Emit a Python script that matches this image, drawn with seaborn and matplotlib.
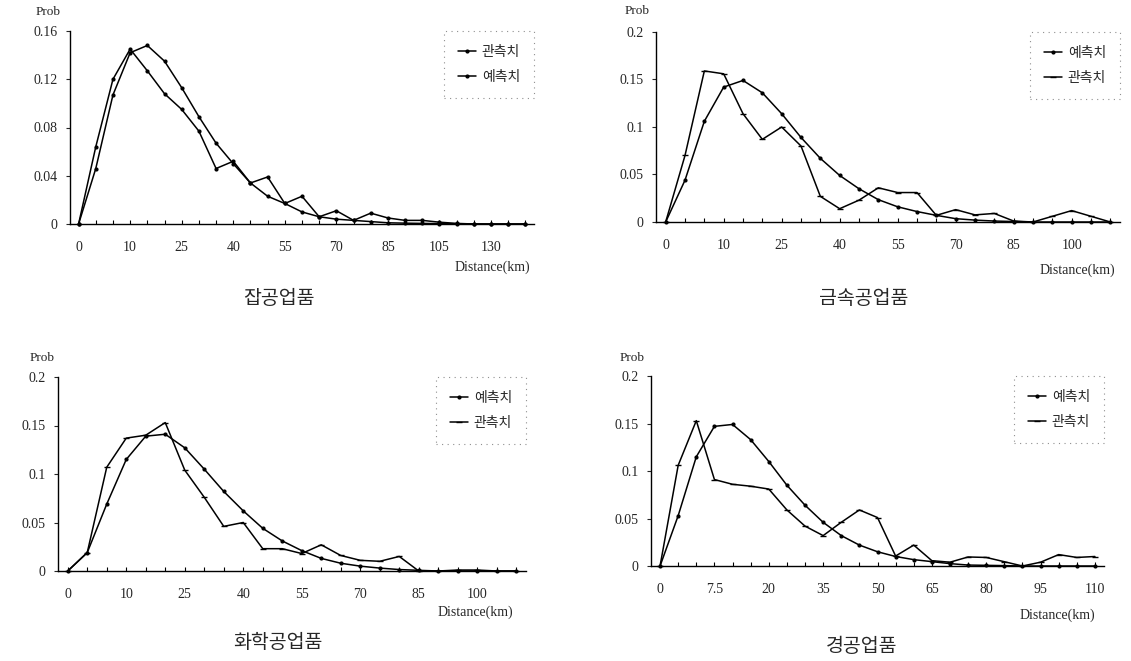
import numpy as np
import matplotlib
matplotlib.use("Agg")
import matplotlib.pyplot as plt
import seaborn as sns

# distance categories (km) on each x axis
dist_misc = [0, 2.5, 5, 10, 15, 20, 25, 30, 35, 40, 45, 50, 55, 60, 65, 70, 75, 80, 85,
             90, 95, 105, 110, 120, 130, 140, 150]
dist_metal = [0, 2.5, 5] + list(range(10, 115, 5))
dist_chem = [0, 2.5, 5] + list(range(10, 115, 5))
dist_light = [0, 2.5, 5, 7.5] + list(range(10, 115, 5))

# 잡공업품
obs_misc = [0, 0.064, 0.120, 0.145, 0.127, 0.108, 0.095, 0.077, 0.046, 0.052, 0.034, 0.039,
            0.017, 0.023, 0.006, 0.011, 0.003, 0.009, 0.005, 0.003, 0.003, 0.0015, 0.0005,
            0, 0, 0, 0]
pred_misc = [0, 0.046, 0.107, 0.142, 0.148, 0.135, 0.113, 0.089, 0.067, 0.050, 0.034, 0.023,
             0.017, 0.010, 0.006, 0.004, 0.003, 0.002, 0.001, 0.0007, 0.0005, 0.0003, 0.0002,
             0.0001, 0, 0, 0]

# 금속공업품
pred_metal = [0, 0.044, 0.106, 0.142, 0.149, 0.136, 0.114, 0.089, 0.067, 0.049, 0.035, 0.0235,
              0.016, 0.011, 0.007, 0.0035, 0.002, 0.001, 0.0005, 0, 0, 0, 0, 0]
obs_metal = [0, 0.070, 0.159, 0.156, 0.114, 0.087, 0.100, 0.080, 0.027, 0.014, 0.023, 0.036,
             0.031, 0.031, 0.007, 0.013, 0.0075, 0.009, 0.001, 0, 0.006, 0.012, 0.006, 0]

# 화학공업품
pred_chem = [0, 0.019, 0.069, 0.115, 0.139, 0.141, 0.127, 0.105, 0.082, 0.062, 0.044, 0.031,
             0.021, 0.013, 0.008, 0.005, 0.003, 0.0015, 0.0007, 0, 0, 0, 0, 0]
obs_chem = [0, 0.019, 0.107, 0.137, 0.140, 0.153, 0.104, 0.076, 0.046, 0.050, 0.023, 0.023,
            0.018, 0.027, 0.016, 0.011, 0.010, 0.015, 0, 0, 0.001, 0.001, 0, 0]

# 경공업품
pred_light = [0, 0.053, 0.115, 0.147, 0.149, 0.133, 0.110, 0.085, 0.064, 0.046, 0.032, 0.022,
              0.015, 0.010, 0.0067, 0.0046, 0.0025, 0.001, 0.0007, 0.0004, 0, 0, 0, 0, 0]
obs_light = [0, 0.106, 0.153, 0.091, 0.086, 0.084, 0.081, 0.059, 0.042, 0.032, 0.046, 0.059,
             0.051, 0.0105, 0.022, 0.0056, 0.004, 0.0095, 0.009, 0.0045, 0, 0.004, 0.012,
             0.009, 0.010]

yticks_misc = [0, 0.04, 0.08, 0.12, 0.16]
ylabels_misc = ["0", "0.04", "0.08", "0.12", "0.16"]
yticks_std = [0, 0.05, 0.1, 0.15, 0.2]
ylabels_std = ["0", "0.05", "0.1", "0.15", "0.2"]

titles = ["잡공업품", "금속공업품", "화학공업품", "경공업품"]

sns.set_style("ticks")
plt.rcParams["font.family"] = ["Liberation Serif", "Noto Sans CJK KR"]
KR = ["Noto Sans CJK KR", "DejaVu Sans"]

W, H = 1131, 661
fig = plt.figure(figsize=(W / 100, H / 100), dpi=100)


def add_panel(left, top, right, bottom):
    return fig.add_axes([left / W, 1 - bottom / H, (right - left) / W, (bottom - top) / H])


def draw_panel(ax, dist, series, yticks, ylabels):
    pos = np.arange(len(dist))
    for name, vals, mk in series:
        sns.lineplot(x=pos, y=vals, ax=ax, color="black", linewidth=1.1, marker=mk,
                     markersize=4, markeredgecolor="black", markeredgewidth=1.0,
                     label=name, clip_on=False)
    ax.set_xlim(-0.5, len(dist) - 0.5)
    ax.set_ylim(0, yticks[-1])
    ax.set_xticks(pos[::3])
    ax.set_xticklabels([f"{d:g}" for d in dist[::3]])
    ax.set_xticks(pos, minor=True)
    ax.set_yticks(yticks)
    ax.set_yticklabels(ylabels)
    ax.tick_params(axis="x", which="both", direction="in", length=3, width=0.8, color="black")
    ax.tick_params(axis="x", which="major", pad=12, labelsize=10)
    ax.tick_params(axis="y", direction="out", length=3, width=0.8, pad=6, labelsize=10)
    sns.despine(ax=ax)
    for s in ["left", "bottom"]:
        ax.spines[s].set_color("black")
        ax.spines[s].set_linewidth(1.0)
    ax.set_xlabel("")
    ax.set_ylabel("")
    leg = ax.legend(loc="upper right", bbox_to_anchor=(1.0, 1.0), frameon=True, fancybox=False,
                    handlelength=1.3, borderpad=1.0, labelspacing=0.8, handletextpad=0.4,
                    borderaxespad=0.0, prop={"family": KR, "size": 10})
    frame = leg.get_frame()
    frame.set_edgecolor("0.45")
    frame.set_linewidth(0.8)
    frame.set_linestyle((0, (1, 4)))


ax1 = add_panel(70, 31, 534, 224)
draw_panel(ax1, dist_misc, [("관측치", obs_misc, "."), ("예측치", pred_misc, ".")],
           yticks_misc, ylabels_misc)
ax2 = add_panel(656, 32, 1120, 222)
draw_panel(ax2, dist_metal, [("예측치", pred_metal, "."), ("관측치", obs_metal, "_")],
           yticks_std, ylabels_std)
ax3 = add_panel(58, 377, 526, 571)
draw_panel(ax3, dist_chem, [("예측치", pred_chem, "."), ("관측치", obs_chem, "_")],
           yticks_std, ylabels_std)
ax4 = add_panel(651, 376, 1104, 566)
draw_panel(ax4, dist_light, [("예측치", pred_light, "."), ("관측치", obs_light, "_")],
           yticks_std, ylabels_std)


def ftext(x, y, s, **kw):
    fig.text(x / W, 1 - y / H, s, **kw)


for x, y in [(36, 12), (625, 11), (30, 358), (620, 358)]:
    ftext(x, y, "Prob", fontsize=9.5, va="center", ha="left")
for x, y in [(530, 267), (1115, 270), (513, 612), (1095, 615)]:
    ftext(x, y, "Distance(km)", fontsize=10, va="center", ha="right")

title_pos = [(279, 298), (864, 298), (278, 642), (862, 647)]
for (x, y), t in zip(title_pos, titles):
    ftext(x, y, t, fontsize=14, va="center", ha="center", family=KR)

fig.savefig("out.png", dpi=100, facecolor="white")
